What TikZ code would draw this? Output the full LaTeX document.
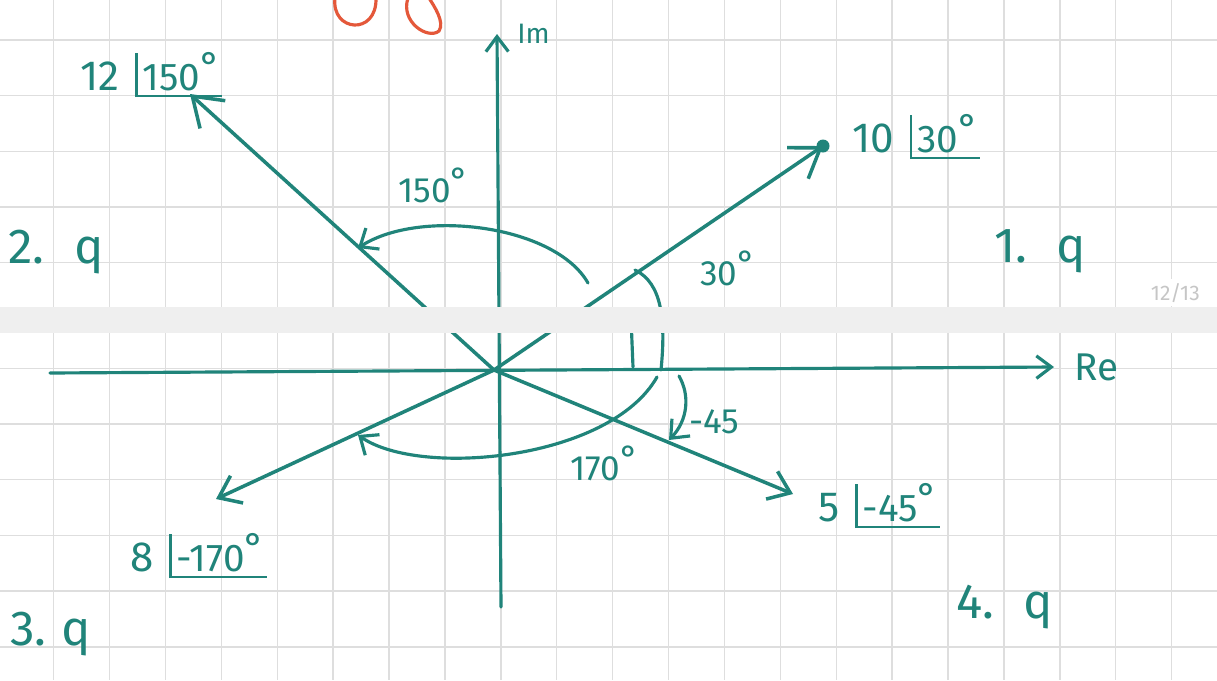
\documentclass[tikz,border=0pt]{standalone}
\usepackage{fontspec}
\setmainfont{Fira Sans}
\usetikzlibrary{positioning, arrows.meta}

\definecolor{ink}{RGB}{32,132,122}
\definecolor{redink}{RGB}{228,88,58}
\definecolor{gridgray}{RGB}{222,222,222}
\definecolor{bandgray}{RGB}{239,239,239}

% raised degree sign and the L-shaped angle mark of phasor notation
\newcommand\dg{\raisebox{.5ex}{°}}
\newcommand\anglbox[1]{%
  \setbox0\hbox{\kern3pt#1\kern1pt}%
  \vrule width 1.3pt height \ht0 depth 4pt
  \rlap{\vrule width \wd0 height -2.7pt depth 4pt}\box0}
\newcommand\phasorlbl[2]{#1\hspace{9pt}{\fontsize{22}{24}\selectfont\anglbox{#2}}}

\begin{document}
\begin{tikzpicture}[
      x=0.02cm, y=-0.02cm,
      gridline/.style  = {draw=gridgray, line width=0.8pt},
      axis/.style      = {draw=ink, line width=1.8pt, line cap=round,
                          -{Straight Barb[length=3mm, width=4.5mm]}},
      phasor/.style    = {draw=ink, line width=2pt, line cap=round,
                          -{Straight Barb[length=5.5mm, width=7.5mm]}},
      phasorsm/.style  = {phasor, -{Straight Barb[length=4mm, width=6mm]}},
      anglearc/.style  = {draw=ink, line width=1.8pt, line cap=round,
                          -{Straight Barb[length=3mm, width=5mm]}},
      lbl/.style       = {text=ink, inner sep=0pt, anchor=base west,
                          font=\fontsize{24}{26}\selectfont},
      anglbl/.style    = {lbl, font=\fontsize{20}{22}\selectfont},
      quad/.style      = {lbl, font=\fontsize{28}{30}\selectfont},
      axlbl/.style     = {text=ink, inner sep=0pt}]
    \useasboundingbox (0,0) rectangle (1217,680);
    \fill[white] (0,0) rectangle (1217,680);
    % squared paper: upper page and lower page
    \foreach \gx in {0,...,20}
      \draw[gridline] ({53.6+55.9*\gx},0) -- ({53.6+55.9*\gx},307);
    \foreach \gy in {0,...,4}
      \draw[gridline] (0,{40+55.6*\gy}) -- (1217,{40+55.6*\gy});
    \foreach \gx in {0,...,20}
      \draw[gridline] ({53.6+55.9*\gx},333) -- ({53.6+55.9*\gx},680);
    \foreach \gy in {0,...,5}
      \draw[gridline] (0,{368.3+55.7*\gy}) -- (1217,{368.3+55.7*\gy});
    % red strokes cut off at the top edge
    \draw[redink, line width=1.8pt] (335,-2) .. controls (331,32) and (377,36) .. (376,-2);
    \draw[redink, line width=1.8pt] (408,-2) .. controls (400,22) and (428,40) .. (439,31)
                                    .. controls (445,22) and (434,6) .. (429,-2);
    % axes
    \coordinate (O)       at (494,370);
    \coordinate (reStart) at (50,373);
    \coordinate (reEnd)   at (1054,367);
    \coordinate (imStart) at (501,607);
    \coordinate (imEnd)   at (497,34);
    \draw[axis] (reStart) -- (reEnd);
    \draw[axis] (imStart) -- (imEnd);
    \node[axlbl, font=\fontsize{22}{24}\selectfont, right=4mm of reEnd] (reLbl) {Re};
    \node[axlbl, font=\fontsize{16}{18}\selectfont, right=4mm of imEnd] (imLbl) {Im};
    % the four phasors
    \coordinate (tipA) at (823,146);
    \coordinate (tipB) at (190,94);
    \coordinate (tipC) at (216,499);
    \coordinate (tipD) at (793,494);
    \draw[phasor]   (O) -- (tipA);
    \fill[ink] (tipA) circle (3.7pt);
    \draw[phasor]   (O) -- (tipB);
    \draw[phasorsm] (O) -- (tipC);
    \draw[phasorsm] (O) -- (tipD);
    % angle arcs
    \coordinate (a150s) at (588,283);
    \coordinate (a150e) at (358,248);
    \coordinate (a30s)  at (635,270);
    \coordinate (a30e)  at (661,370);
    \coordinate (a170s) at (657,377);
    \coordinate (a170e) at (358,435);
    \coordinate (a45s)  at (679,376);
    \coordinate (a45e)  at (669,440);
    \draw[anglearc] (a150s) .. controls (555,225) and (420,208) .. (a150e);
    \draw[anglearc, -] (a30s) .. controls (662,283) and (666,320) .. (a30e);
    \draw[anglearc, -] (631,318) -- (633,367);
    \draw[anglearc] (a170s) .. controls (610,460) and (420,478) .. (a170e);
    \draw[anglearc] (a45s) .. controls (690,395) and (688,420) .. (a45e);
    % phasor labels
    \node[lbl] (lblB) at (80,90)   {\phasorlbl{12}{150\dg}};
    \node[lbl] (lblA) at (852,152) {\phasorlbl{10}{30\dg}};
    \node[lbl] (lblC) at (130,571) {\phasorlbl{8}{-170\dg}};
    \node[lbl] (lblD) at (818,521) {\phasorlbl{5}{-45\dg}};
    % angle labels
    \node[anglbl] (ang150) at (398,202) {150\dg};
    \node[anglbl] (ang30)  at (700,285) {30\dg};
    \node[anglbl] (ang45)  at (689,433) {-45};
    \node[anglbl] (ang170) at (570,480) {170\dg};
    % quadrants
    \node[quad] (q1) at (994,262) {1.\hspace{.6em}q};
    \node[quad] (q2) at (8,263)   {2.\hspace{.6em}q};
    \node[quad] (q3) at (10,645)  {3.\hspace{.3em}q};
    \node[quad] (q4) at (956,618) {4.\hspace{.6em}q};
    % page break band of the notebook
    \fill[bandgray] (0,307) rectangle (1217,333);
    \node[text=gray!45, font=\fontsize{12}{14}\selectfont, fill=white,
          inner sep=2pt, anchor=base west] (pageNo) at (1147,300) {12/13};
\end{tikzpicture}
\end{document}
